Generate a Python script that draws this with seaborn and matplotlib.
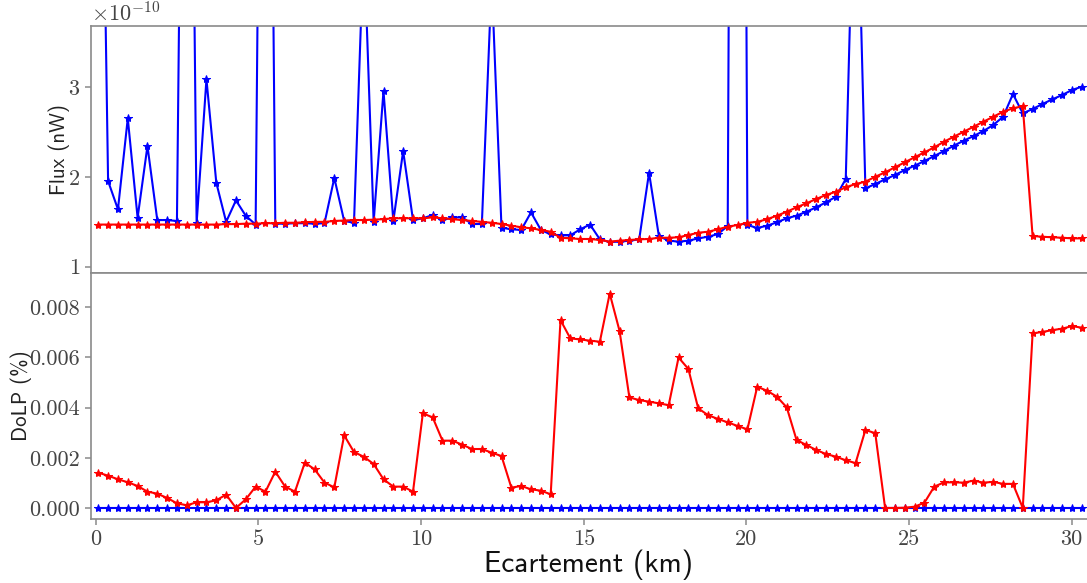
import numpy as np
import matplotlib
matplotlib.use("Agg")
import matplotlib.pyplot as plt
import matplotlib.ticker as ticker
import seaborn as sns

# distance grid (km), one sample every ~0.3 km
x_km = np.round(0.08 + 0.3023 * np.arange(101), 3)

# flux in units of 1e-10 (blue = first channel, red = second channel)
flux_blue = [9.0, 1.955, 1.64, 2.654, 1.546, 2.346, 1.52, 1.52, 1.51, 12.0,
             1.485, 3.09, 1.936, 1.50, 1.74, 1.567, 1.47, 13.5, 1.48, 1.48,
             1.485, 1.485, 1.48, 1.485, 1.99, 1.51, 1.49, 4.65, 1.50, 2.96,
             1.51, 2.29, 1.52, 1.54, 1.576, 1.52, 1.55, 1.55, 1.476, 1.476,
             4.2, 1.435, 1.417, 1.41, 1.606, 1.41, 1.36, 1.35, 1.35, 1.417,
             1.47, 1.305, 1.275, 1.28, 1.29, 1.305, 2.048, 1.342, 1.29, 1.28,
             1.29, 1.316, 1.334, 1.364, 1.454, 25.0, 1.465, 1.432, 1.457, 1.495,
             1.54, 1.569, 1.613, 1.662, 1.718, 1.78, 1.978, 6.1, 1.874, 1.922,
             1.974, 2.022, 2.078, 2.126, 2.178, 2.234, 2.29, 2.35, 2.405, 2.457,
             2.513, 2.58, 2.672, 2.925, 2.71, 2.758, 2.814, 2.866, 2.914, 2.97,
             3.007]
flux_red = [1.47, 1.47, 1.47, 1.47, 1.47, 1.47, 1.47, 1.47, 1.47, 1.47,
            1.47, 1.47, 1.47, 1.475, 1.475, 1.48, 1.48, 1.485, 1.485, 1.49,
            1.49, 1.495, 1.50, 1.50, 1.51, 1.515, 1.52, 1.52, 1.525, 1.53,
            1.54, 1.54, 1.54, 1.54, 1.55, 1.54, 1.53, 1.52, 1.51, 1.50,
            1.49, 1.476, 1.457, 1.44, 1.428, 1.41, 1.39, 1.323, 1.316, 1.309,
            1.309, 1.298, 1.28, 1.29, 1.298, 1.305, 1.309, 1.323, 1.323, 1.328,
            1.353, 1.379, 1.39, 1.417, 1.446, 1.465, 1.49, 1.50, 1.53, 1.569,
            1.613, 1.662, 1.707, 1.755, 1.80, 1.836, 1.885, 1.922, 1.948, 2.003,
            2.052, 2.108, 2.164, 2.22, 2.275, 2.331, 2.394, 2.45, 2.505, 2.561,
            2.617, 2.672, 2.728, 2.766, 2.79, 1.342, 1.334, 1.328, 1.323, 1.316,
            1.316]

# degree of linear polarisation
dolp_blue = [0.0] * 101
dolp_red = [0.001406, 0.001287, 0.001143, 0.001024, 0.000876, 0.00065, 0.00057, 0.000398, 0.000186, 0.000106,
            0.000226, 0.000226, 0.000305, 0.000531, 0.0, 0.000345, 0.00085, 0.00065, 0.001447, 0.00085,
            0.00065, 0.001806, 0.00154, 0.00101, 0.000823, 0.002896, 0.00223, 0.00204, 0.001753, 0.001143,
            0.00085, 0.00085, 0.00065, 0.003772, 0.003612, 0.002683, 0.002683, 0.002524, 0.00235, 0.00235,
            0.002204, 0.00207, 0.00081, 0.000876, 0.000743, 0.00069, 0.000544, 0.00749, 0.00676, 0.00672,
            0.00667, 0.00663, 0.00855, 0.00706, 0.00441, 0.0043, 0.00424, 0.00417, 0.0041, 0.006,
            0.00554, 0.00397, 0.0037, 0.00355, 0.003413, 0.00327, 0.003134, 0.004833, 0.004674, 0.004435,
            0.004011, 0.002709, 0.00251, 0.00231, 0.00215, 0.002045, 0.0019, 0.00179, 0.00311, 0.00298,
            0.0, 0.0, 0.00001, 0.00005, 0.00021, 0.00085, 0.00102, 0.00102, 0.00101, 0.00109,
            0.00101, 0.00104, 0.00096, 0.00096, 0.0, 0.00696, 0.00702, 0.00709, 0.00715, 0.00725,
            0.00719]

flux_blue = np.array(flux_blue) * 1e-10
flux_red = np.array(flux_red) * 1e-10

sns.set_style("ticks")
plt.rcParams['font.family'] = ['cmr10', 'DejaVu Serif']
plt.rcParams['mathtext.fontset'] = 'cm'
plt.rcParams['axes.formatter.use_mathtext'] = True
plt.rcParams['axes.unicode_minus'] = False

spine_col = '#8a8a8a'
tick_col = '#444444'

fig = plt.figure(figsize=(10.87, 5.83), dpi=100)
ax1 = fig.add_axes([0.0834, 0.5322, 0.9166, 0.4237])
ax2 = fig.add_axes([0.0834, 0.1098, 0.9166, 0.4224], sharex=ax1)

line_kw = dict(marker='*', markersize=6, linewidth=1.5)
sns.lineplot(x=x_km, y=flux_blue, ax=ax1, color='b', markeredgecolor='b', **line_kw)
sns.lineplot(x=x_km, y=flux_red, ax=ax1, color='r', markeredgecolor='r', **line_kw)
sns.lineplot(x=x_km, y=dolp_blue, ax=ax2, color='b', markeredgecolor='b', **line_kw)
sns.lineplot(x=x_km, y=dolp_red, ax=ax2, color='r', markeredgecolor='r', **line_kw)

ax1.set_xlim(-0.154, 30.47)
ax1.set_ylim(0.933e-10, 3.687e-10)
ax2.set_ylim(-0.00044, 0.00938)

ax1.yaxis.set_major_locator(ticker.MultipleLocator(1e-10))
fmt = ticker.ScalarFormatter(useMathText=True)
fmt.set_powerlimits((0, 0))
ax1.yaxis.set_major_formatter(fmt)
ax1.yaxis.get_offset_text().set_fontsize(16)
ax1.yaxis.get_offset_text().set_color(tick_col)

ax2.yaxis.set_major_locator(ticker.MultipleLocator(0.002))
ax2.yaxis.set_major_formatter(ticker.FuncFormatter(lambda v, p: '%.3f' % v))
ax2.xaxis.set_major_locator(ticker.MultipleLocator(5))
ax2.xaxis.set_major_formatter(ticker.FuncFormatter(lambda v, p: '%d' % v))

for ax in [ax1, ax2]:
    for side in ['left', 'top', 'bottom']:
        ax.spines[side].set_visible(True)
        ax.spines[side].set_color(spine_col)
        ax.spines[side].set_linewidth(1.2)
    ax.spines['right'].set_visible(False)
    ax.tick_params(axis='both', direction='out', length=4, width=1.1,
                   color=spine_col, labelcolor=tick_col, labelsize=16)

ax1.tick_params(axis='x', bottom=False, labelbottom=False)

ax1.set_ylabel('Flux (nW)', fontfamily='cmss10', fontsize=15, color='#222222')
ax2.set_ylabel('DoLP (%)', fontfamily='cmss10', fontsize=15, color='#222222')
ax2.set_xlabel('Ecartement (km)', fontfamily='cmss10', fontsize=21, color='#111111')
ax1.yaxis.set_label_coords(-0.0208, 0.5)
ax2.yaxis.set_label_coords(-0.059, 0.5)
ax2.xaxis.set_label_coords(0.5, -0.122)

fig.savefig('out.png', dpi=100)
